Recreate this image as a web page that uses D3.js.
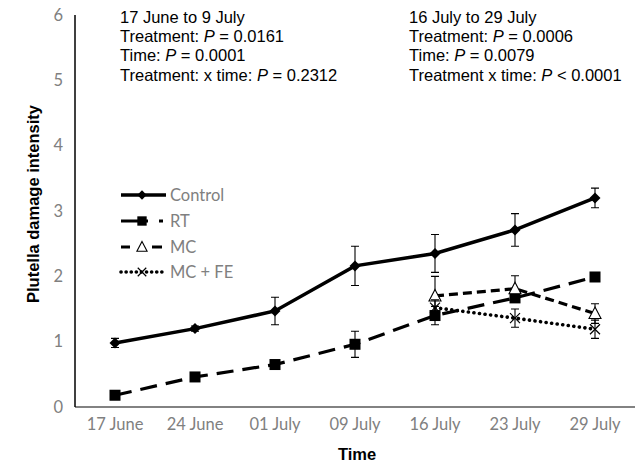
<!DOCTYPE html>
<html><head><meta charset="utf-8">
<script src="https://cdn.jsdelivr.net/npm/d3@7"></script>
<style>
  body { margin: 0; background: #fff; }
  svg { display: block; }
  .tick-lbl { font-family: Lato, "Open Sans", sans-serif; font-size: 16.5px; fill: #808080; }
  .note { font-family: "Liberation Sans", Arial, sans-serif; font-size: 16.5px; fill: #000; }
  .ttl { font-family: "Liberation Sans", Arial, sans-serif; font-size: 16.5px; font-weight: bold; fill: #000; }
</style></head>
<body>
<div id="chart"></div>
<script>
// ---- data ----
const dates = ['17 June', '24 June', '01 July', '09 July', '16 July', '23 July', '29 July'];
const yTicks = [0, 1, 2, 3, 4, 5, 6];

const controlVals = [0.98, 1.20, 1.47, 2.16, 2.35, 2.71, 3.20];
const controlErr  = [0.07, 0.04, 0.21, 0.30, 0.29, 0.25, 0.15];
const rtVals = [0.18, 0.46, 0.65, 0.96, 1.40, 1.67, 1.99];
const rtErr  = [0.03, 0.03, 0.03, 0.20, 0.14, 0.06, 0.05];
const mcVals = [null, null, null, null, 1.70, 1.81, 1.43];
const mcErr  = [null, null, null, null, 0.30, 0.20, 0.15];
const mcfeVals = [null, null, null, null, 1.52, 1.36, 1.19];
const mcfeErr  = [null, null, null, null, 0.12, 0.14, 0.14];

const leftNotes  = ['17 June to 9 July', 'Treatment: |P| = 0.0161', 'Time: |P| = 0.0001', 'Treatment: x time: |P| = 0.2312'];
const rightNotes = ['16 July to 29 July', 'Treatment: |P| = 0.0006', 'Time: |P| = 0.0079', 'Treatment x time: |P| < 0.0001'];

const series = [
  { name: 'Control', vals: controlVals, err: controlErr, dash: null,    legDash: null,      w: 3.5, marker: 'diamond' },
  { name: 'RT',      vals: rtVals,      err: rtErr,      dash: '17,9',  legDash: '27,11,4', w: 3.2, marker: 'square' },
  { name: 'MC',      vals: mcVals,      err: mcErr,      dash: '9,5',   legDash: '9,22,10', w: 3.2, marker: 'triangle' },
  { name: 'MC + FE', vals: mcfeVals,    err: mcfeErr,    dash: '0.1,5.5', legDash: '0.1,5', w: 3.6, marker: 'x' },
];

// ---- layout ----
const W = 635, H = 465;
const m = { top: 15, left: 75, right: 0, bottom: 58 };
const svg = d3.select('#chart').append('svg').attr('width', W).attr('height', H);
const x = d3.scaleBand(dates, [m.left, W - m.right]);
const y = d3.scaleLinear([0, 6], [H - m.bottom, m.top]);
const cx = d => x(d) + x.bandwidth() / 2;

// axes
svg.append('line').attr('x1', m.left).attr('x2', W).attr('y1', y(0)).attr('y2', y(0))
  .attr('stroke', '#595959').attr('stroke-width', 1.3);
svg.append('line').attr('x1', m.left).attr('x2', m.left).attr('y1', y(0)).attr('y2', y(6))
  .attr('stroke', '#000').attr('stroke-width', 1.5);
svg.append('g').selectAll('text').data(yTicks).join('text').attr('class', 'tick-lbl')
  .attr('x', 63).attr('y', d => y(d)).attr('dy', '.35em').attr('text-anchor', 'end').text(d => d);
svg.append('g').selectAll('text').data(dates).join('text').attr('class', 'tick-lbl')
  .attr('x', d => cx(d)).attr('y', y(0) + 23).attr('text-anchor', 'middle').text(d => d);

svg.append('text').attr('class', 'ttl').attr('x', 357).attr('y', 460).attr('text-anchor', 'middle').text('Time');
svg.append('text').attr('class', 'ttl').attr('transform', `translate(39,204) rotate(-90)`)
  .attr('text-anchor', 'middle').text('Plutella damage intensity');

// markers
function drawMarker(g, type, px, py, k = 1) {
  if (type === 'diamond') {
    const s = 5.5 * k;
    g.append('path').attr('d', `M${px},${py - s}L${px + s},${py}L${px},${py + s}L${px - s},${py}Z`).attr('fill', '#000');
  } else if (type === 'square') {
    const s = 5.5 * k;
    g.append('rect').attr('x', px - s).attr('y', py - s).attr('width', 2 * s).attr('height', 2 * s).attr('fill', '#000');
  } else if (type === 'triangle') {
    g.append('path').attr('d', `M${px},${py - 6.5 * k}L${px + 6 * k},${py + 5 * k}L${px - 6 * k},${py + 5 * k}Z`)
      .attr('fill', '#fff').attr('stroke', '#000').attr('stroke-width', 1.1);
  } else {
    const s = 5 * k;
    g.append('path').attr('d', `M${px - s},${py - s}L${px + s},${py + s}M${px - s},${py + s}L${px + s},${py - s}`)
      .attr('stroke', '#000').attr('stroke-width', 1.2);
  }
}

// series
series.forEach(s => {
  const pts = dates.map((d, i) => ({ d, v: s.vals[i], e: s.err[i] })).filter(p => p.v != null);
  const g = svg.append('g');
  // error bars
  pts.forEach(p => {
    const px = cx(p.d), y1 = y(p.v + p.e), y2 = y(p.v - p.e);
    g.append('path').attr('d', `M${px},${y1}V${y2}M${px - 4},${y1}H${px + 4}M${px - 4},${y2}H${px + 4}`)
      .attr('stroke', '#000').attr('stroke-width', 1.1).attr('fill', 'none');
  });
  const line = d3.line().x(p => cx(p.d)).y(p => y(p.v));
  g.append('path').datum(pts).attr('d', line).attr('fill', 'none').attr('stroke', '#000')
    .attr('stroke-width', s.w).attr('stroke-dasharray', s.dash)
    .attr('stroke-linecap', s.marker === 'x' ? 'round' : 'butt');
  pts.forEach(p => drawMarker(g, s.marker, cx(p.d), y(p.v)));
});

// legend
const legY = [195, 221, 247, 272];
series.forEach((s, i) => {
  const g = svg.append('g');
  g.append('line').attr('x1', 121).attr('x2', 166).attr('y1', legY[i]).attr('y2', legY[i])
    .attr('stroke', '#000').attr('stroke-width', s.w).attr('stroke-dasharray', s.legDash)
    .attr('stroke-linecap', s.marker === 'x' ? 'round' : 'butt');
  drawMarker(g, s.marker, 142, legY[i], 0.85);
  g.append('text').attr('class', 'tick-lbl').attr('x', 170).attr('y', legY[i]).attr('dy', '.35em').text(s.name);
});

// annotations (P italic)
function notes(arr, x0) {
  arr.forEach((t, i) => {
    const tx = svg.append('text').attr('class', 'note').attr('x', x0).attr('y', 23 + i * 19.2);
    t.split('|').forEach((part, j) => {
      tx.append('tspan').style('font-style', j === 1 ? 'italic' : 'normal').text(part);
    });
  });
}
notes(leftNotes, 120);
notes(rightNotes, 409);
</script>
</body></html>
